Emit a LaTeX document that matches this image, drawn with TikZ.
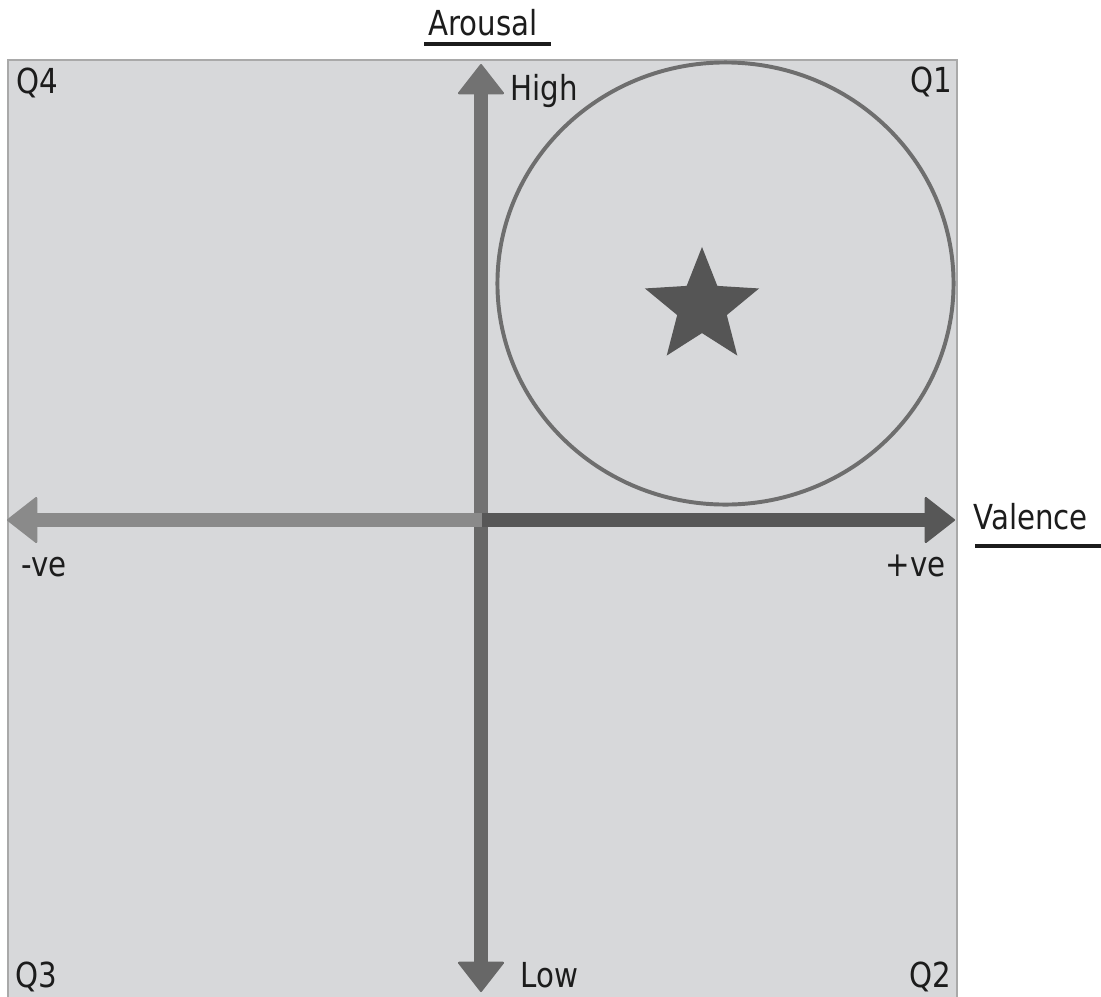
\documentclass[tikz,border=0pt]{standalone}
\usepackage{fontspec}
\setmainfont{DejaVu Sans}[FakeStretch=0.85]
\usepackage{tikz}
\usetikzlibrary{shapes.geometric, arrows.meta}
\definecolor{panelgray}{HTML}{D7D8DA}
\definecolor{framegray}{HTML}{A9A9A9}
\definecolor{axislight}{HTML}{8A8A8A}
\definecolor{axismid}{HTML}{727272}
\definecolor{axislow}{HTML}{676767}
\definecolor{axisdark}{HTML}{575757}
\definecolor{ringgray}{HTML}{6E6E6E}
\definecolor{stargray}{HTML}{555555}
\definecolor{labelink}{HTML}{1C1C1C}
\tikzstyle{axisarrow} = [line width=9.8pt, -{Triangle[width=34pt, length=22pt, line width=1.5pt, round]}]
\tikzstyle{quadtext} = [inner sep=0pt, font=\fontsize{24.5}{28}\selectfont, text=labelink]
\tikzstyle{titleline} = [line width=2.6pt, labelink]

\begin{document}
\begin{tikzpicture}[x=0.025cm, y=-0.025cm]
  \useasboundingbox (0,0) rectangle (1101,996);
  \draw[framegray, fill=panelgray, line width=0.8pt] (8,60) rectangle (957,1000);

  % axes
  \coordinate (origin) at (481,520);
  \coordinate (hitop) at (481,64);
  \coordinate (lobot) at (481,992);
  \coordinate (negend) at (7,520);
  \coordinate (posend) at (955,520);
  \coordinate (split) at (482,520);
  \draw[axisarrow, axismid] (origin)--(hitop);
  \draw[axisarrow, axislow] (origin)--(lobot);
  \draw[axisarrow, axislight] (split)--(negend);
  \draw[axisarrow, axisdark] (split)--(posend);

  % region of interest
  \node (zone) [ellipse, draw=ringgray, line width=2.8pt, inner sep=0pt,
    minimum width=11.4cm, minimum height=11.05cm] at (725.5,283.5) {};
  \node (mark) [star, star points=5, star point ratio=2.3, fill=stargray,
    inner sep=0pt, minimum size=3cm] at (702,307) {};

  % labels
  \node (q4) [quadtext, anchor=base west] at (16,93) {Q4};
  \node (q1) [quadtext, anchor=base east] at (952,92) {Q1};
  \node (q3) [quadtext, anchor=base west] at (15,987) {Q3};
  \node (q2) [quadtext, anchor=base east] at (951,987) {Q2};
  \node (neg) [quadtext, anchor=base west] at (21,576) {-ve};
  \node (pos) [quadtext, anchor=base east] at (946,576) {+ve};
  \node (high) [quadtext, anchor=base west] at (510,100) {High};
  \node (low) [quadtext, anchor=base west] at (520,987) {Low};
  \node (arousal) [quadtext, anchor=base] at (483,35) {Arousal};
  \node (valence) [quadtext, anchor=base west] at (973,529) {Valence};
  \draw[titleline] (424,44)--(551,44);
  \draw[titleline] (975,546)--(1101,546);
\end{tikzpicture}
\end{document}
